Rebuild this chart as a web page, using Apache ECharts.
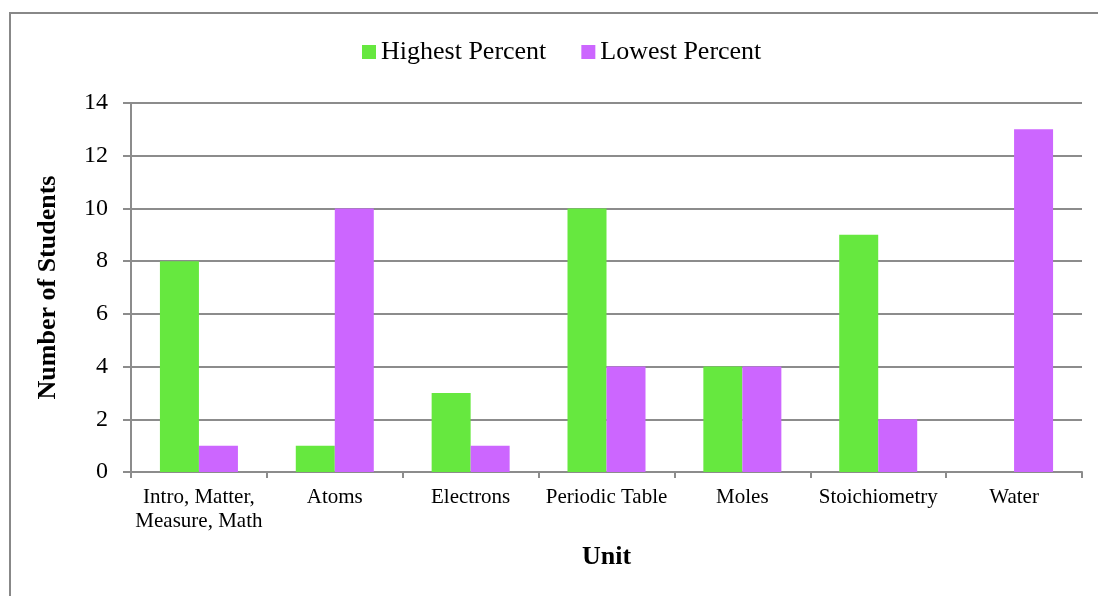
<!DOCTYPE html>
<html>
<head>
<meta charset="utf-8">
<script src="https://cdn.jsdelivr.net/npm/echarts@6/dist/echarts.min.js"></script>
<style>
  html, body { margin: 0; padding: 0; background: #fff; }
  #chart { width: 1098px; height: 596px; }
</style>
</head>
<body>
<div id="chart"></div>
<script>
const units = ['Intro, Matter,\nMeasure, Math', 'Atoms', 'Electrons', 'Periodic Table', 'Moles', 'Stoichiometry', 'Water']
const highestPercent = [8, 1, 3, 10, 4, 9, 0]
const lowestPercent = [1, 10, 1, 4, 4, 2, 13]

const font = '"Liberation Serif", "Times New Roman", serif'
const chart = echarts.init(document.getElementById('chart'))

chart.setOption({
  animation: false,
  textStyle: { fontFamily: font },
  graphic: [{
    type: 'rect',
    shape: { x: 10, y: 13, width: 1100, height: 600 },
    style: { fill: 'none', stroke: '#888', lineWidth: 2 },
    silent: true
  }],
  legend: {
    top: 34,
    left: 357,
    itemWidth: 14,
    itemHeight: 14,
    itemGap: 35,
    icon: 'rect',
    textStyle: { fontFamily: font, fontSize: 26, color: '#000' },
    data: ['Highest Percent', 'Lowest Percent']
  },
  grid: { left: 131, right: 16, top: 103, bottom: 124 },
  xAxis: {
    type: 'category',
    data: units,
    name: 'Unit',
    nameLocation: 'middle',
    nameGap: 72,
    nameTextStyle: { fontFamily: font, fontSize: 26, fontWeight: 'bold', color: '#000' },
    axisLine: { lineStyle: { color: '#8c8c8c', width: 2 } },
    axisTick: { show: true, length: 6, lineStyle: { color: '#8c8c8c', width: 2 } },
    axisLabel: { fontFamily: font, fontSize: 21, color: '#000', margin: 13, lineHeight: 24, interval: 0 }
  },
  yAxis: {
    type: 'value',
    min: 0,
    max: 14,
    interval: 2,
    name: 'Number of Students',
    nameLocation: 'middle',
    nameGap: 70,
    nameTextStyle: { fontFamily: font, fontSize: 26, fontWeight: 'bold', color: '#000' },
    axisLine: { show: true, lineStyle: { color: '#8c8c8c', width: 2 } },
    axisTick: { show: true, length: 8, lineStyle: { color: '#8c8c8c', width: 2 } },
    axisLabel: { fontFamily: font, fontSize: 24, color: '#000', margin: 23 },
    splitLine: { lineStyle: { color: '#8c8c8c', width: 2 } }
  },
  series: [
    {
      name: 'Highest Percent',
      type: 'bar',
      data: highestPercent,
      barWidth: 39,
      barGap: '0%',
      itemStyle: { color: '#66E83F' }
    },
    {
      name: 'Lowest Percent',
      type: 'bar',
      data: lowestPercent,
      barWidth: 39,
      barGap: '0%',
      itemStyle: { color: '#CC66FF' }
    }
  ]
})
</script>
</body>
</html>
